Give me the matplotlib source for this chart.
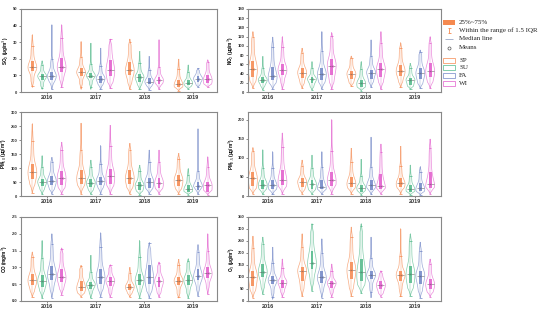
import numpy as np
import matplotlib
matplotlib.use("Agg")
import matplotlib.pyplot as plt
from matplotlib.patches import Rectangle

# colours per season
SEASONS = ["SP", "SU", "FA", "WI"]
COLORS = ["#f5894f", "#52b98a", "#7186c6", "#e25ccc"]
YEARS = ["2016", "2017", "2018", "2019"]

# summary values, [year][season]
so2_lo = [[2.8, 1.6, 1.6, 2.8], [1.6, 1.6, 1.6, 2.2], [1.6, 1.6, 1.2, 1.6], [0.8, 1.6, 2.8, 2.8]]
so2_q1 = [[12.7, 7.5, 7.3, 12.3], [9.7, 8.3, 5.6, 9.7], [10.3, 6.3, 4.8, 4.8], [2.8, 4.2, 6.3, 5.2]]
so2_med = [[15, 9.5, 9.7, 15.3], [11.9, 9.9, 8.1, 13.3], [13.3, 8.9, 6.3, 7.1], [4.8, 5.6, 8.1, 7.7]]
so2_q3 = [[18.8, 11, 12.3, 20.4], [14.3, 11.7, 9.7, 19.4], [18.3, 10.7, 8.3, 8.9], [7.3, 7.3, 9.7, 10.3]]
so2_hi = [[34.5, 18.8, 40.5, 40.5], [30.4, 29.4, 26.4, 31.9], [31.9, 24.4, 21.4, 31.5], [19.8, 16.3, 14.3, 19.4]]

no2_lo = [[8, 4, 6, 6], [8, 4, 6, 6], [12, 3, 10, 6], [10, 6, 8, 8]]
no2_q1 = [[33, 19, 26, 37], [30, 19, 26, 37], [28, 10, 28, 33], [35, 15, 28, 32]]
no2_med = [[50, 26, 35, 48], [42, 27.5, 39, 57], [39, 19, 42, 49], [46, 26, 41, 46]]
no2_q3 = [[67.5, 32, 55, 61], [51.5, 32, 51.5, 71], [46, 26, 48, 62], [59, 30, 51.5, 62]]
no2_hi = [[131, 77, 119, 120], [95, 66, 131, 129], [78, 66, 113, 131], [107, 62, 91, 120]]

pm10_lo = [[11, 6, 8, 8], [8, 6, 8, 8], [8, 5, 8, 8], [8, 5, 6, 5]]
pm10_q1 = [[62, 35, 38, 38], [44, 32, 38, 44], [44, 23, 30, 30], [35, 14, 23, 14]]
pm10_med = [[86, 50, 54, 66], [66, 47, 53, 71], [66, 38, 50, 48], [56, 26, 36, 38]]
pm10_q3 = [[116, 62, 72, 89], [92, 60, 68, 98], [92, 50, 66, 66], [74, 38, 50, 50]]
pm10_hi = [[258, 144, 138, 192], [260, 128, 180, 252], [188, 110, 164, 164], [152, 98, 240, 140]]

pm25_lo = [[6, 4, 4, 6], [6, 4, 4, 6], [6, 3, 4, 5], [6, 3, 3, 6]]
pm25_q1 = [[26, 19, 19, 28], [24, 19, 18, 26], [24, 11, 17, 19], [24, 11, 13, 22]]
pm25_med = [[46, 30, 28, 43], [37, 31, 24, 43], [34, 22, 28, 26], [33, 19, 21, 31]]
pm25_q3 = [[63, 41, 41, 68], [46, 41, 41, 63], [50, 28, 41, 57], [46, 28, 33, 63]]
pm25_hi = [[127, 121, 116, 165], [94, 107, 116, 200], [125, 96, 154, 136], [130, 81, 77, 149]]

co_lo = [[0.12, 0.09, 0.1, 0.19], [0.12, 0.09, 0.12, 0.12], [0.12, 0.09, 0.09, 0.12], [0.09, 0.09, 0.15, 0.2]]
co_q1 = [[0.47, 0.42, 0.62, 0.57], [0.3, 0.37, 0.52, 0.45], [0.32, 0.47, 0.52, 0.42], [0.47, 0.47, 0.62, 0.68]]
co_med = [[0.62, 0.6, 0.8, 0.72], [0.42, 0.49, 0.71, 0.6], [0.42, 0.62, 0.71, 0.59], [0.6, 0.62, 0.74, 0.82]]
co_q3 = [[0.81, 0.76, 1.05, 0.96], [0.6, 0.57, 0.96, 0.7], [0.52, 0.81, 1.06, 0.71], [0.71, 0.76, 0.96, 1.0]]
co_hi = [[1.46, 1.8, 2.0, 1.58], [1.06, 1.36, 2.03, 1.08], [1.0, 1.8, 1.74, 1.16], [1.24, 1.26, 1.68, 2.0]]

o3_lo = [[14, 28, 7, 18], [20, 42, 14, 18], [20, 32, 14, 18], [18, 22, 14, 18]]
o3_q1 = [[63, 98, 70, 56], [84, 133, 77, 56], [91, 84, 91, 49], [84, 77, 70, 49]]
o3_med = [[101, 122, 87, 77], [125, 158, 98, 74], [128, 119, 108, 67], [108, 112, 105, 70]]
o3_q3 = [[126, 154, 105, 88], [140, 210, 126, 84], [161, 175, 126, 84], [126, 147, 126, 91]]
o3_hi = [[270, 266, 224, 175], [280, 322, 259, 154], [308, 322, 266, 126], [301, 280, 245, 175]]

PANELS = [
    ("SO$_2$ (μg/m$^3$)", so2_lo, so2_q1, so2_med, so2_q3, so2_hi, 50, 10, "{:.0f}"),
    ("NO$_2$ (μg/m$^3$)", no2_lo, no2_q1, no2_med, no2_q3, no2_hi, 180, 20, "{:.0f}"),
    ("PM$_{10}$ (μg/m$^3$)", pm10_lo, pm10_q1, pm10_med, pm10_q3, pm10_hi, 300, 50, "{:.0f}"),
    ("PM$_{2.5}$ (μg/m$^3$)", pm25_lo, pm25_q1, pm25_med, pm25_q3, pm25_hi, 220, 50, "{:.0f}"),
    ("CO (mg/m$^3$)", co_lo, co_q1, co_med, co_q3, co_hi, 2.5, 0.5, "{:.1f}"),
    ("O$_3$ (μg/m$^3$)", o3_lo, o3_q1, o3_med, o3_q3, o3_hi, 350, 50, "{:.0f}"),
]

OFFSETS = [-0.3, -0.1, 0.1, 0.3]
TICKFONT = dict(family="Liberation Sans", weight="bold")


def violin_stats(lo, q1, med, q3, hi):
    """smoothed density outline built from the read summary values"""
    iqr = q3 - q1
    wlo = max(lo, q1 - 1.5 * iqr)
    whi = min(hi, q3 + 1.5 * iqr)
    edges = [lo, wlo, q1, med, q3, whi, hi]
    mass = [0.04, 0.21, 0.25, 0.25, 0.21, 0.04]
    coords = np.linspace(lo, hi, 300)
    step = coords[1] - coords[0]
    dens = np.zeros_like(coords)
    for a, b, m in zip(edges[:-1], edges[1:], mass):
        if b - a < 1e-9:
            continue
        dens[(coords >= a) & (coords <= b)] = m / (b - a)
    sig = max(0.35 * iqr, 2 * step)
    k = np.arange(-4 * sig, 4 * sig + step, step)
    ker = np.exp(-0.5 * (k / sig) ** 2)
    vals = np.convolve(dens, ker / ker.sum(), mode="same")
    # pointed tips
    span = hi - lo
    taper = np.clip((coords - lo) / (0.12 * span), 0, 1) * np.clip((hi - coords) / (0.12 * span), 0, 1)
    vals = vals * taper
    return dict(coords=coords, vals=vals, mean=med, median=med, min=lo, max=hi,
                quantiles=[]), wlo, whi


fig = plt.figure(figsize=(5.5, 3.13), dpi=100)
W, H = 550, 313
boxes = [(20.7, 9, 217, 92), (248, 9, 441, 92),
         (20.7, 112, 217, 196), (248, 112, 441, 196),
         (20.7, 217, 217, 301), (248, 217, 441, 301)]

for i, (ylab, lo, q1, med, q3, hi, ymax, step, fmt) in enumerate(PANELS):
    x0, y0, x1, y1 = boxes[i]
    ax = fig.add_axes([x0 / W, 1 - y1 / H, (x1 - x0) / W, (y1 - y0) / H])
    for yi in range(4):
        for si in range(4):
            pos = yi + OFFSETS[si]
            c = COLORS[si]
            st, wlo, whi = violin_stats(lo[yi][si], q1[yi][si], med[yi][si],
                                        q3[yi][si], hi[yi][si])
            parts = ax.violin([st], positions=[pos], widths=0.18,
                              showmeans=False, showextrema=False, showmedians=False)
            for b in parts["bodies"]:
                b.set_facecolor("none")
                b.set_edgecolor(c)
                b.set_linewidth(0.5)
                b.set_alpha(0.7)
            ax.vlines(pos, lo[yi][si], hi[yi][si], color=c, lw=0.35, alpha=0.7)
            ax.add_patch(Rectangle((pos - 0.03, q1[yi][si]), 0.06,
                                   q3[yi][si] - q1[yi][si], facecolor=c,
                                   edgecolor="none", alpha=0.85, zorder=3))
            ax.hlines([wlo, whi], pos - 0.025, pos + 0.025, color=c, lw=0.5, zorder=3)
            ax.hlines(med[yi][si], pos - 0.07, pos + 0.07, color="#555555",
                      lw=0.5, alpha=0.7, zorder=4)
            ax.plot(pos, med[yi][si], "o", ms=1.6, mfc="none", mec=c, mew=0.4, zorder=5)
    if i % 2 == 0:
        ax.set_xlim(-0.54, 3.49)
    else:
        ax.set_xlim(-0.40, 3.52)
    ax.set_ylim(0, ymax)
    ticks = np.arange(0, ymax + 1e-9, step)
    ax.set_yticks(ticks)
    ax.set_yticklabels([fmt.format(t) for t in ticks], fontsize=3, **TICKFONT)
    ax.set_xticks(range(4))
    ax.set_xticklabels(YEARS, fontsize=4, **TICKFONT)
    ax.tick_params(axis="both", length=1.5, width=0.4, pad=1, colors="#333333")
    ax.set_ylabel(ylab, fontsize=3.3, labelpad=0.8, **TICKFONT)
    for s in ax.spines.values():
        s.set_color("#888888")
        s.set_linewidth(0.8)

# legend drawn in pixel coordinates
lg = fig.add_axes([440 / W, 0, 110 / W, 1])
lg.set_xlim(440, 550)
lg.set_ylim(313, 0)
lg.axis("off")
TXT = dict(fontsize=5, family="Liberation Serif", va="center", ha="left", color="#222222")
lg.add_patch(Rectangle((443, 19.5), 12, 5, facecolor=COLORS[0], edgecolor="none"))
lg.text(459, 22, "25%~75%", **TXT)
lg.vlines(449, 27.5, 32.5, color=COLORS[0], lw=0.6)
lg.hlines([27.5, 32.5], 447.5, 450.5, color=COLORS[0], lw=0.6)
lg.text(459, 30, "Within the range of 1.5 IQR", **TXT)
lg.hlines(38.5, 445, 453, color="#9aa8c8", lw=0.6)
lg.text(459, 39, "Median line", **TXT)
lg.plot(449, 47.5, "o", ms=2.2, mfc="none", mec="#555555", mew=0.5)
lg.text(459, 47.5, "Means", **TXT)
for k, (s, c) in enumerate(zip(SEASONS, COLORS)):
    yy = 60 + k * 7.7
    lg.add_patch(Rectangle((443, yy - 2.5), 12, 5, facecolor="none", edgecolor=c, lw=0.5))
    lg.text(459, yy, s, **TXT)

fig.savefig("out.png", dpi=100)
